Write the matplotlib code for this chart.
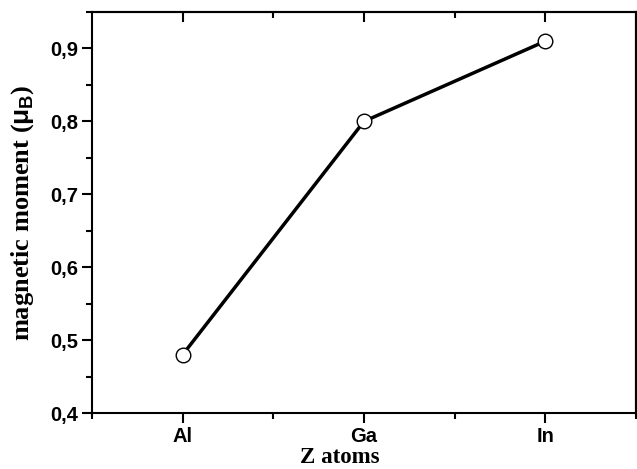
import matplotlib.pyplot as plt
from matplotlib.ticker import MultipleLocator, FixedLocator, FuncFormatter

atoms = ['Al', 'Ga', 'In']
positions = [1, 2, 3]
moment = [0.48, 0.80, 0.91]

plt.rcParams['mathtext.fontset'] = 'custom'
plt.rcParams['mathtext.rm'] = 'Liberation Sans:bold'
plt.rcParams['mathtext.it'] = 'Liberation Sans:bold'
plt.rcParams['mathtext.bf'] = 'Liberation Sans:bold'

fig = plt.figure(figsize=(6.37, 4.69), dpi=100)
ax = fig.add_axes([92/637, 1 - 413/469, (636 - 92)/637, (413 - 12)/469])

ax.plot(positions, moment, color='black', lw=2.5, marker='o', ms=10.5,
        mfc='white', mec='black', mew=1.0)

ax.set_xlim(0.5, 3.5)
ax.set_ylim(0.4, 0.95)
ax.set_xticks(positions)
ax.set_xticklabels(atoms)
ax.xaxis.set_minor_locator(FixedLocator([0.5, 1.5, 2.5, 3.5]))
ax.yaxis.set_major_locator(MultipleLocator(0.1))
ax.yaxis.set_minor_locator(MultipleLocator(0.05))
ax.yaxis.set_major_formatter(FuncFormatter(lambda v, p: f'{v:.1f}'.replace('.', ',')))

for s in ax.spines.values():
    s.set_linewidth(1.5)

ax.tick_params(which='major', direction='out', length=7, width=1.5,
               labelsize=14.5, pad=3)
ax.tick_params(which='minor', direction='out', length=4, width=1.5)
for lab in ax.get_xticklabels() + ax.get_yticklabels():
    lab.set_fontfamily('Liberation Sans')
    lab.set_fontweight('bold')

# top axis: ticks pointing inward, right axis: ticks outward
top = ax.secondary_xaxis('top')
top.set_xticks(positions)
top.set_xticklabels([])
top.xaxis.set_minor_locator(FixedLocator([1.5, 2.5]))
top.tick_params(which='major', direction='in', length=7, width=1.5)
top.tick_params(which='minor', direction='in', length=4, width=1.5)
right = ax.secondary_yaxis('right')
right.yaxis.set_major_locator(MultipleLocator(0.1))
right.yaxis.set_minor_locator(MultipleLocator(0.05))
right.set_yticklabels([])
right.tick_params(which='major', direction='out', length=7, width=1.5)
right.tick_params(which='minor', direction='out', length=4, width=1.5)
for a in (top, right):
    for s in a.spines.values():
        s.set_linewidth(1.5)

ax.set_xlabel('Z atoms', fontfamily='Liberation Serif', fontweight='bold',
              fontsize=16.5)
ax.xaxis.set_label_coords((340 - 92) / 544, -0.085)
ax.set_ylabel(r'magnetic moment ($\mu_\mathrm{B}$)', fontfamily='Liberation Serif',
              fontweight='bold', fontsize=19)
ax.yaxis.set_label_coords((36 - 92) / 544, 0.5)

fig.savefig('out.png', dpi=100)
